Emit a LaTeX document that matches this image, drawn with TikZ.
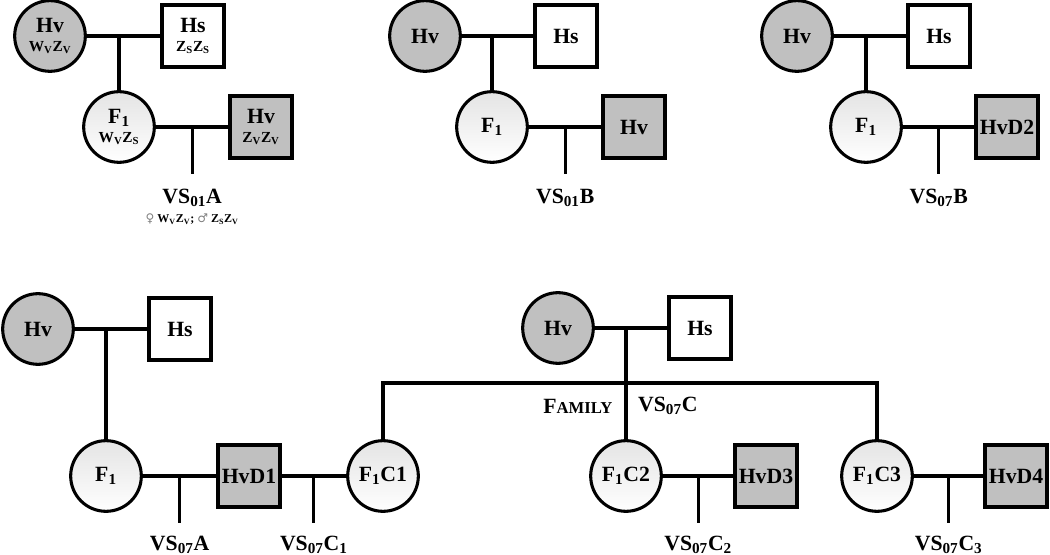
\documentclass[tikz,border=0pt]{standalone}
\usepackage{fontspec}
\setmainfont{Liberation Serif}
\newfontfamily\symfont{DejaVu Sans}
\usetikzlibrary{positioning}

\definecolor{hvgray}{RGB}{192,192,192}
\definecolor{fonetop}{RGB}{228,228,228}
\newcommand{\bigtxt}{\fontsize{16.3}{17}\selectfont\bfseries}
\newcommand{\genotxt}{\fontsize{11.5}{12}\selectfont\bfseries}
\newcommand{\tinytxt}{\fontsize{9}{10}\selectfont\bfseries}
\newcommand{\sbs}[1]{\textsubscript{#1}}

\begin{document}
\begin{tikzpicture}[x=0.75pt,y=-0.75pt,line width=2.3pt,
		every node/.style={font=\bigtxt},
		female/.style={circle,draw,minimum size=53pt,inner sep=0pt,align=center},
		male/.style={rectangle,draw,minimum size=46.5pt,inner sep=0pt,align=center},
		hv/.style={fill=hvgray},
		fone/.style={top color=fonetop,bottom color=white},
		vs/.style={inner sep=0pt}]
	\useasboundingbox (0,0) rectangle (1050,555);
	
	% cross VS01A
	\node[female,hv] (hva) at (50,36) {Hv\\[-3pt]{\genotxt W\sbs{V}Z\sbs{V}}};
	\node[male] (hsa) at (193,36) {Hs\\[-3pt]{\genotxt Z\sbs{S}Z\sbs{S}}};
	\node[female,fone] (f1a) at (119,127) {F\sbs{1}\\[-3pt]{\genotxt W\sbs{V}Z\sbs{S}}};
	\node[male,hv] (hvma) at (261,127) {Hv\\[-3pt]{\genotxt Z\sbs{V}Z\sbs{V}}};
	\draw (hva) -- (hsa);
	\draw (f1a) -- (f1a |- hva);
	\draw (f1a) -- coordinate[midway] (ma) (hvma);
	\draw (ma) -- ++(0,47) coordinate (ea);
	\node[vs,below=10pt of ea] (vs01a) {VS\sbs{01}A};
	\node[vs,below=3pt of vs01a] (sexa) {\tinytxt{\symfont\color{gray}♀} W\sbs{V}Z\sbs{V}; {\symfont\color{gray}♂} Z\sbs{S}Z\sbs{V}};
	
	% cross VS01B
	\node[female,hv] (hvb) at (425,36) {Hv};
	\node[male] (hsb) at (566,36) {Hs};
	\node[female,fone] (f1b) at (492,127) {F\sbs{1}};
	\node[male,hv] (hvmb) at (634,127) {Hv};
	\draw (hvb) -- (hsb);
	\draw (f1b) -- (f1b |- hvb);
	\draw (f1b) -- coordinate[midway] (mb) (hvmb);
	\draw (mb) -- ++(0,47) coordinate (eb);
	\node[vs,below=10pt of eb] (vs01b) {VS\sbs{01}B};
	
	% cross VS07B
	\node[female,hv] (hvc) at (797,36) {Hv};
	\node[male] (hsc) at (939,36) {Hs};
	\node[female,fone] (f1c) at (866,127) {F\sbs{1}};
	\node[male,hv] (hvdtwo) at (1007,127) {HvD2};
	\draw (hvc) -- (hsc);
	\draw (f1c) -- (f1c |- hvc);
	\draw (f1c) -- coordinate[midway] (mc) (hvdtwo);
	\draw (mc) -- ++(0,47) coordinate (ec);
	\node[vs,below=10pt of ec] (vs07b) {VS\sbs{07}B};
	
	% cross VS07A and VS07C1
	\node[female,hv] (hvd) at (38,329) {Hv};
	\node[male] (hsd) at (180,329) {Hs};
	\node[female,fone] (f1d) at (106,476) {F\sbs{1}};
	\node[male,hv] (hvdone) at (249,476) {HvD1};
	\node[female,fone] (fconea) at (383,476) {F\sbs{1}C1};
	\draw (hvd) -- (hsd);
	\draw (f1d) -- (f1d |- hvd);
	\draw (f1d) -- coordinate[midway] (md) (hvdone);
	\draw (md) -- ++(0,47) coordinate (ed);
	\node[vs,below=8.5pt of ed] (vs07a) {VS\sbs{07}A};
	\draw (hvdone) -- coordinate[midway] (mcone) (fconea);
	\draw (mcone) -- ++(0,47) coordinate (econe);
	\node[vs,below=8.5pt of econe] (vs07cone) {VS\sbs{07}C\sbs{1}};
	
	% family VS07C
	\node[female,hv] (hve) at (558,328) {Hv};
	\node[male] (hse) at (700,328) {Hs};
	\node[female,fone] (fctwo) at (626,476) {F\sbs{1}C2};
	\node[male,hv] (hvdthree) at (766,476) {HvD3};
	\node[female,fone] (fcthree) at (877,476) {F\sbs{1}C3};
	\node[male,hv] (hvdfour) at (1016,476) {HvD4};
	\draw (hve) -- (hse);
	\draw (fctwo) -- (fctwo |- hve);
	\coordinate (sibl) at (fconea |- 0,383);
	\coordinate (sibr) at (fcthree |- 0,383);
	\draw (fconea) -- (sibl) -- (sibr) -- (fcthree);
	\coordinate (fam) at (fctwo |- 0,406);
	\node[vs,left=9pt of fam] (famname) {F{\fontsize{12.5}{13}\selectfont\bfseries AMILY}};
	\node[vs,right=8pt of fam] (vs07c) {VS\sbs{07}C};
	
	\draw (fctwo) -- coordinate[midway] (mctwo) (hvdthree);
	\draw (mctwo) -- ++(0,47) coordinate (ectwo);
	\node[vs,below=8.5pt of ectwo] (vs07ctwo) {VS\sbs{07}C\sbs{2}};
	\draw (fcthree) -- coordinate[midway] (mcthree) (hvdfour);
	\draw (mcthree) -- ++(0,47) coordinate (ecthree);
	\node[vs,below=8.5pt of ecthree] (vs07cthree) {VS\sbs{07}C\sbs{3}};
\end{tikzpicture}
\end{document}
